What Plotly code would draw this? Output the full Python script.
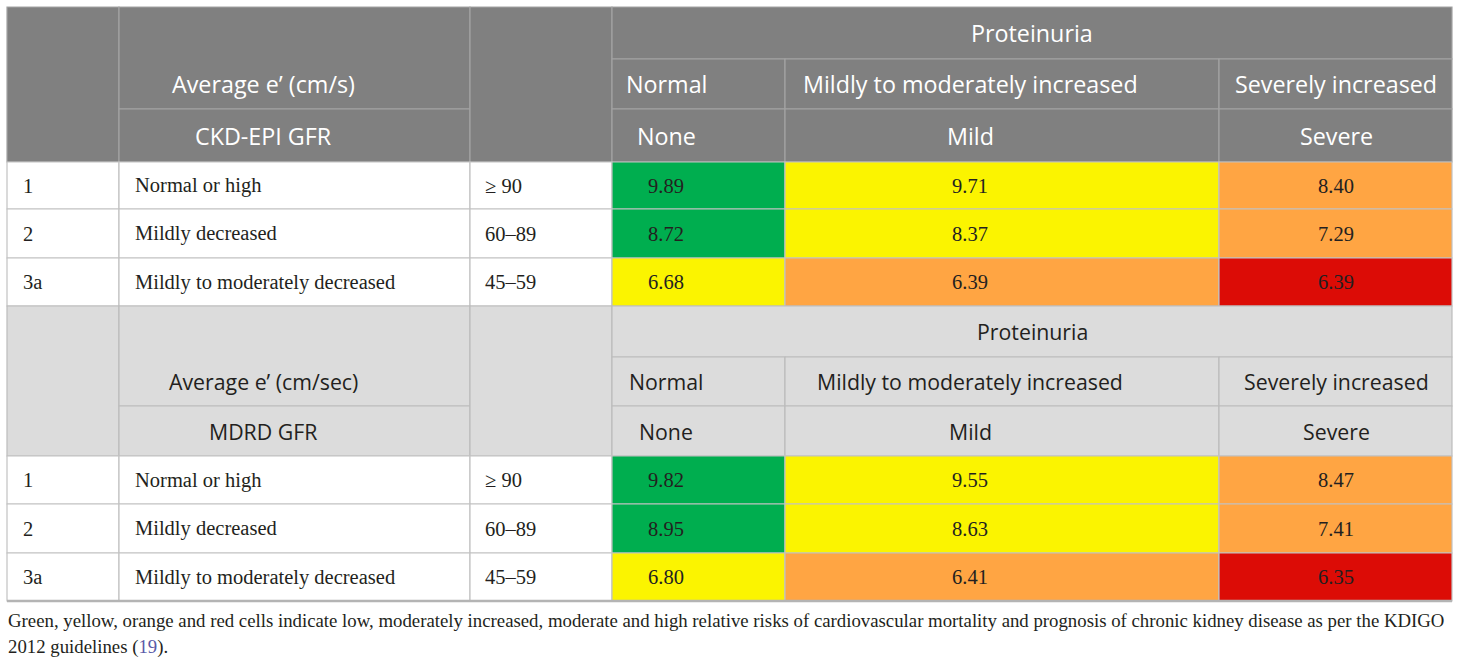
import plotly.graph_objects as go

# table content
stages = ["1", "2", "3a"]
stage_names = ["Normal or high", "Mildly decreased", "Mildly to moderately decreased"]
gfr_ranges = ["≥ 90", "60–89", "45–59"]
proteinuria_groups = ["Normal", "Mildly to moderately increased", "Severely increased"]
proteinuria_grades = ["None", "Mild", "Severe"]

blocks = ["CKD-EPI GFR", "MDRD GFR"]
block_units = ["Average e’ (cm/s)", "Average e’ (cm/sec)"]
ckd_epi_values = [[9.89, 9.71, 8.40],
                  [8.72, 8.37, 7.29],
                  [6.68, 6.39, 6.39]]
mdrd_values = [[9.82, 9.55, 8.47],
               [8.95, 8.63, 7.41],
               [6.80, 6.41, 6.35]]
risk = [["low", "moderately increased", "moderate"],
        ["low", "moderately increased", "moderate"],
        ["moderately increased", "moderate", "high"]]

caption_lines = [
    "Green, yellow, orange and red cells indicate low, moderately increased, moderate and high relative "
    "risks of cardiovascular mortality and prognosis of chronic kidney disease as per the KDIGO",
    "2012 guidelines (<span style='color:#5a5aa8'>19</span>).",
]

# layout geometry (page pixels)
col_edges = [7, 119, 470, 612, 785, 1219, 1452]
block_rows = [[7, 59, 109, 162, 209, 258, 306],
              [306, 357, 406, 456, 504, 553, 601]]
left_text_x = [21, 133, 483]
value_text_x = [666, 970, 1336]
unit_x = 263
caption_y = [620, 647]

risk_colors = {"low": "#00ae4f", "moderately increased": "#fbf400",
               "moderate": "#ffa543", "high": "#dc0c06"}
head_fill = ["#808080", "#dcdcdc"]
head_line = ["#a3a3a3", "#bcbcbc"]
head_text = ["white", "#231f20"]
head_size = [23.3, 21.3]
grid = "#c2c2c2"
serif = "Liberation Serif"
sans = "Open Sans"
body_size = 20.5

fig = go.Figure()
shapes = []
notes = []


def cell(x0, x1, y0, y1, fill, line):
    shapes.append(dict(type="rect", xref="x", yref="y", x0=x0, x1=x1, y0=y0, y1=y1,
                       fillcolor=fill, line=dict(color=line, width=1.2), layer="below"))


for b, values in enumerate([ckd_epi_values, mdrd_values]):
    r = block_rows[b]
    ce = col_edges
    hf, hl = head_fill[b], head_line[b]
    # header cells (merged)
    cell(ce[0], ce[1], r[0], r[3], hf, hl)
    cell(ce[1], ce[2], r[0], r[2], hf, hl)
    cell(ce[1], ce[2], r[2], r[3], hf, hl)
    cell(ce[2], ce[3], r[0], r[3], hf, hl)
    cell(ce[3], ce[6], r[0], r[1], hf, hl)
    for j in range(3):
        cell(ce[3 + j], ce[4 + j], r[1], r[2], hf, hl)
        cell(ce[3 + j], ce[4 + j], r[2], r[3], hf, hl)

    font = dict(family=sans, size=head_size[b], color=head_text[b])
    notes.append(dict(x=unit_x, y=(r[1] + r[2]) / 2, text=block_units[b], font=font))
    notes.append(dict(x=unit_x, y=(r[2] + r[3]) / 2, text=blocks[b], font=font))
    notes.append(dict(x=(ce[3] + ce[6]) / 2, y=(r[0] + r[1]) / 2, text="Proteinuria", font=font))
    for j in range(3):
        notes.append(dict(x=value_text_x[j], y=(r[1] + r[2]) / 2, text=proteinuria_groups[j], font=font))
        notes.append(dict(x=value_text_x[j], y=(r[2] + r[3]) / 2, text=proteinuria_grades[j], font=font))

    # body cells
    tx, ty, tt = [], [], []
    for i in range(3):
        y0, y1 = r[3 + i], r[4 + i]
        for k in range(3):
            cell(ce[k], ce[k + 1], y0, y1, "white", grid)
        for j in range(3):
            cell(ce[3 + j], ce[4 + j], y0, y1, risk_colors[risk[i][j]], grid)
            tx.append(value_text_x[j])
            ty.append((y0 + y1) / 2 + 2)
            tt.append(f"{values[i][j]:.2f}")
        for k, txt in enumerate([stages[i], stage_names[i], gfr_ranges[i]]):
            notes.append(dict(x=left_text_x[k], y=(y0 + y1) / 2, text=txt, xanchor="left",
                              font=dict(family=serif, size=body_size, color="#231f20")))
    fig.add_trace(go.Scatter(x=tx, y=ty, text=tt, mode="text", hoverinfo="skip",
                             textfont=dict(family=serif, size=body_size, color="#231f20")))

# table bottom rule
shapes.append(dict(type="line", xref="x", yref="y", x0=col_edges[0], x1=col_edges[-1],
                   y0=block_rows[1][-1], y1=block_rows[1][-1], line=dict(color="#b4b4b4", width=2.5)))

for line, y in zip(caption_lines, caption_y):
    notes.append(dict(x=col_edges[0] - 1, y=y, text=line, xanchor="left", align="left",
                      font=dict(family=serif, size=18.8, color="#231f20")))

for n in notes:
    n.setdefault("xref", "x")
    n.setdefault("yref", "y")
    n.setdefault("showarrow", False)

fig.update_layout(
    width=1460, height=663,
    margin=dict(l=0, r=0, t=0, b=0),
    paper_bgcolor="white", plot_bgcolor="white",
    showlegend=False,
    shapes=shapes, annotations=notes,
    xaxis=dict(range=[0, 1460], visible=False, fixedrange=True),
    yaxis=dict(range=[663, 0], visible=False, fixedrange=True),
)

fig.write_html("out.html", config={"displayModeBar": False},
               post_script="document.body.style.margin='0';")
